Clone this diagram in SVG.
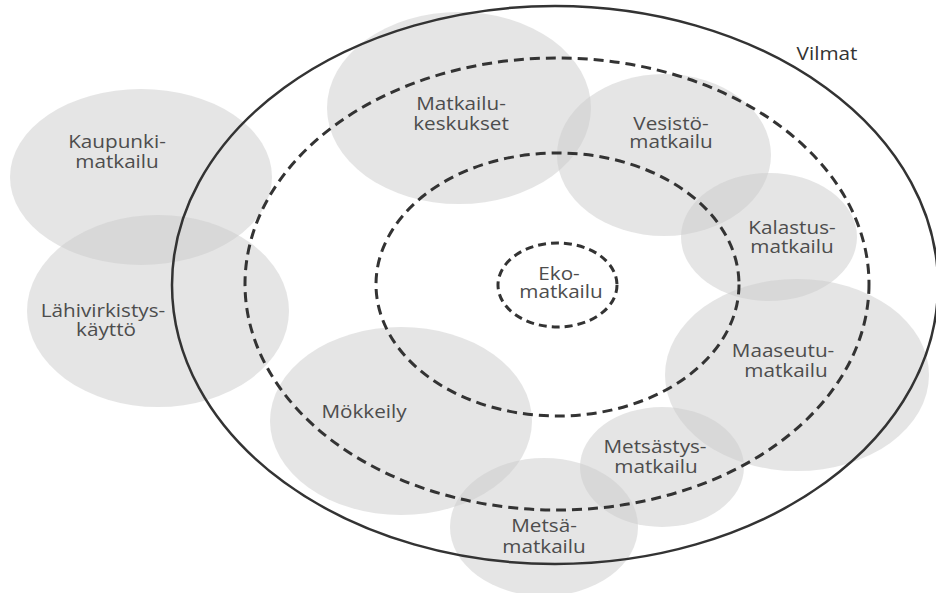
<svg xmlns="http://www.w3.org/2000/svg" width="936" height="593" viewBox="0 0 936 593">
<style>
.blob{fill:#cccccc;fill-opacity:0.5;stroke:none}
.solid{fill:none;stroke:#333;stroke-width:2.5}
.dash{fill:none;stroke:#333;stroke-width:3;stroke-dasharray:10 6}
.dash2{fill:none;stroke:#333;stroke-width:3;stroke-dasharray:8 5}
text{font-family:"Open Sans","Liberation Sans",sans-serif;font-size:18px;fill:#4d4d4d;text-anchor:middle}
</style>
<rect width="936" height="593" fill="#fff"/>
<g id="kaupunkimatkailu"><ellipse class="blob" cx="141" cy="177" rx="131" ry="88"/></g>
<g id="lahivirkistys"><ellipse class="blob" cx="158" cy="311" rx="131" ry="96"/></g>
<g id="matkailukeskukset"><ellipse class="blob" cx="459" cy="108" rx="132" ry="96"/></g>
<g id="vesistomatkailu"><ellipse class="blob" cx="664" cy="155" rx="107" ry="81"/></g>
<g id="kalastusmatkailu"><ellipse class="blob" cx="769" cy="237" rx="88" ry="64"/></g>
<g id="maaseutumatkailu"><ellipse class="blob" cx="797" cy="375" rx="132" ry="96"/></g>
<g id="metsastysmatkailu"><ellipse class="blob" cx="662" cy="467" rx="82" ry="60"/></g>
<g id="metsamatkailu"><ellipse class="blob" cx="544" cy="527" rx="94" ry="69"/></g>
<g id="mokkeily"><ellipse class="blob" cx="401" cy="421" rx="131" ry="94"/></g>
<g id="rings">
<ellipse id="vilmat" class="solid" cx="555" cy="285" rx="383" ry="279"/>
<ellipse id="middle" class="dash" cx="557" cy="284" rx="312" ry="226"/>
<ellipse id="inner" class="dash" cx="557.5" cy="284.5" rx="181.5" ry="131.5"/>
<ellipse id="eko" class="dash2" cx="557.5" cy="285" rx="59.5" ry="42"/>
</g>
<g id="labels">
<text transform="translate(117,0) scale(1.15,1)" y="148">Kaupunki-</text>
<text transform="translate(117,0) scale(1.15,1)" y="168">matkailu</text>
<text transform="translate(103,0) scale(1.15,1)" y="317">Lähivirkistys-</text>
<text transform="translate(106,0) scale(1.15,1)" y="336">käyttö</text>
<text transform="translate(461,0) scale(1.15,1)" y="110">Matkailu-</text>
<text transform="translate(461,0) scale(1.15,1)" y="130">keskukset</text>
<text transform="translate(671,0) scale(1.15,1)" y="130">Vesistö-</text>
<text transform="translate(671,0) scale(1.15,1)" y="148">matkailu</text>
<text transform="translate(792,0) scale(1.15,1)" y="234">Kalastus-</text>
<text transform="translate(792,0) scale(1.15,1)" y="253">matkailu</text>
<text transform="translate(783,0) scale(1.15,1)" y="357">Maaseutu-</text>
<text transform="translate(786,0) scale(1.15,1)" y="377">matkailu</text>
<text transform="translate(655,0) scale(1.15,1)" y="453">Metsästys-</text>
<text transform="translate(656,0) scale(1.15,1)" y="473">matkailu</text>
<text transform="translate(544,0) scale(1.15,1)" y="532">Metsä-</text>
<text transform="translate(544,0) scale(1.15,1)" y="553">matkailu</text>
<text transform="translate(364,0) scale(1.15,1)" y="418">Mökkeily</text>
<text transform="translate(559,0) scale(1.15,1)" y="280">Eko-</text>
<text transform="translate(561,0) scale(1.15,1)" y="298">matkailu</text>
<text transform="translate(827,0) scale(1.15,1)" y="60" style="fill:#333">Vilmat</text>
</g>
</svg>
